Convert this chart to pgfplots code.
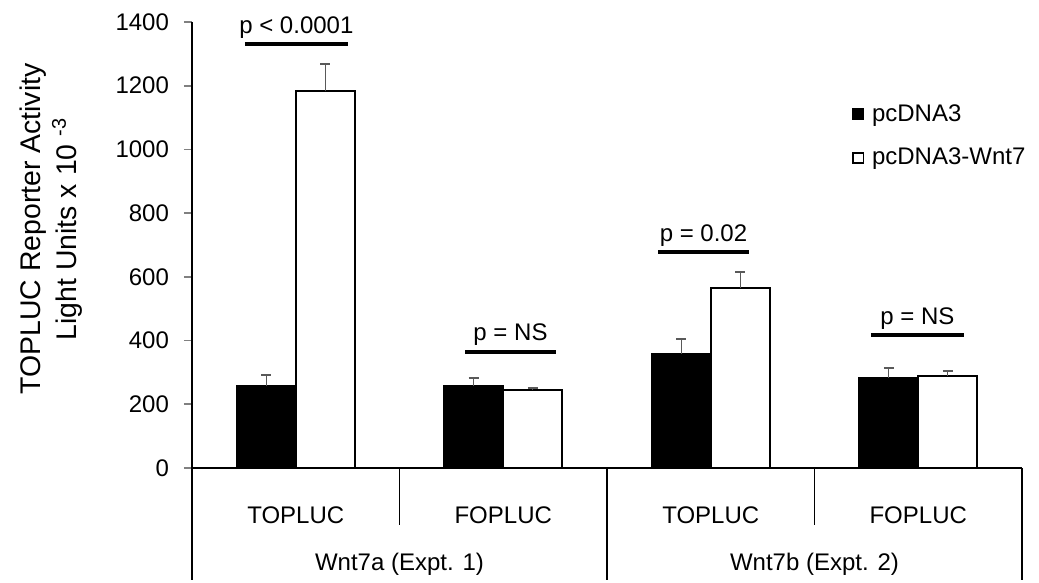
\documentclass[border=0pt]{standalone}
\usepackage{pgfplots}
\pgfplotsset{compat=1.18}
\usepackage{fontspec}
\setmainfont{Liberation Sans}
\newcommand{\tw}{\fontsize{12}{14}\selectfont}
\begin{document}
\begin{tikzpicture}
\path[use as bounding box] (0pt,0pt) rectangle (519.5pt,-291.5pt);
\begin{axis}[
  at={(96pt,-234pt)}, anchor=south west,
  scale only axis, width=415pt, height=223pt,
  xmin=-0.5, xmax=3.5, ymin=0, ymax=1400,
  axis lines=left, axis line style={-, line width=0.9pt},
  ytick={0,200,400,600,800,1000,1200,1400},
  yticklabels={0,200,400,600,800,1000,1200,1400},
  tick align=outside, major tick length=4pt,
  y tick style={line width=0.9pt},
  /pgf/number format/assume math mode=true,
  /pgf/number format/1000 sep={},
  tick label style={font=\tw},
  yticklabel style={font=\tw, anchor=east, xshift=-4pt},
  xtick={0,1,2,3}, xticklabels={TOPLUC,FOPLUC,TOPLUC,FOPLUC},
  x tick style={draw=none},
  xticklabel style={font=\tw, anchor=base, yshift=-23.5pt},
  ylabel={TOPLUC Reporter Activity\\Light Units x 10 \textsuperscript{-3}},
  ylabel style={font=\fontsize{14.2}{18}\selectfont, align=center, at={(rel axis cs:-0.170,0.536)}, anchor=center},
  ybar=0pt, bar width=29.5pt,
  clip=false,
  legend style={draw=none, fill=none, at={(axis cs:2.68,1155)}, anchor=north west, font=\tw, row sep=8pt, inner sep=0pt},
  legend cell align=left,
  legend image code/.code={\draw[#1, line width=0.8pt] (0pt,-2.6pt) rectangle (5.2pt,2.6pt); \path[draw=none,fill=none] (0pt,0pt) -- (7.5pt,0pt);},
]
\addplot[fill=black, draw=black, line width=0.9pt,
  error bars/.cd, y dir=plus, y explicit,
  error bar style={black!65, line width=0.7pt},
  error mark options={rotate=90, mark size=2.5pt, black!65, line width=0.7pt}]
  coordinates {(0,257) +- (0,35) (1,257) +- (0,25) (2,358) +- (0,47) (3,282) +- (0,32)};
\addlegendentry{pcDNA3}
\addplot[fill=white, draw=black, line width=0.9pt,
  error bars/.cd, y dir=plus, y explicit,
  error bar style={black!65, line width=0.7pt},
  error mark options={rotate=90, mark size=2.5pt, black!65, line width=0.7pt}]
  coordinates {(0,1183) +- (0,85) (1,245) +- (0,6) (2,565) +- (0,50) (3,289) +- (0,16)};
\addlegendentry{pcDNA3-Wnt7}
% significance bars
\draw[line width=1.75pt] (axis cs:-0.245,1331) -- (axis cs:0.252,1331);
\node[font=\tw, anchor=base] at (axis cs:0.003,1365) {p < 0.0001};
\draw[line width=1.75pt] (axis cs:0.816,364) -- (axis cs:1.254,364);
\node[font=\tw, anchor=base] at (axis cs:1.035,399) {p = NS};
\draw[line width=1.75pt] (axis cs:1.746,678) -- (axis cs:2.184,678);
\node[font=\tw, anchor=base] at (axis cs:1.965,712) {p = 0.02};
\draw[line width=1.75pt] (axis cs:2.772,417) -- (axis cs:3.220,417);
\node[font=\tw, anchor=base] at (axis cs:2.996,452) {p = NS};
% category table below axis
\draw[line width=0.9pt] (axis cs:-0.5,0) -- (axis cs:-0.5,-351);
\draw[line width=0.9pt] (axis cs:0.5,0) -- (axis cs:0.5,-179);
\draw[line width=0.9pt] (axis cs:1.5,0) -- (axis cs:1.5,-351);
\draw[line width=0.9pt] (axis cs:2.5,0) -- (axis cs:2.5,-179);
\draw[line width=0.9pt] (axis cs:3.5,0) -- (axis cs:3.5,-351);
\node[font=\tw, anchor=base] at (axis cs:0.5,-323) {Wnt7a (Expt. 1)};
\node[font=\tw, anchor=base] at (axis cs:2.5,-323) {Wnt7b (Expt. 2)};
\end{axis}
\end{tikzpicture}
\end{document}
